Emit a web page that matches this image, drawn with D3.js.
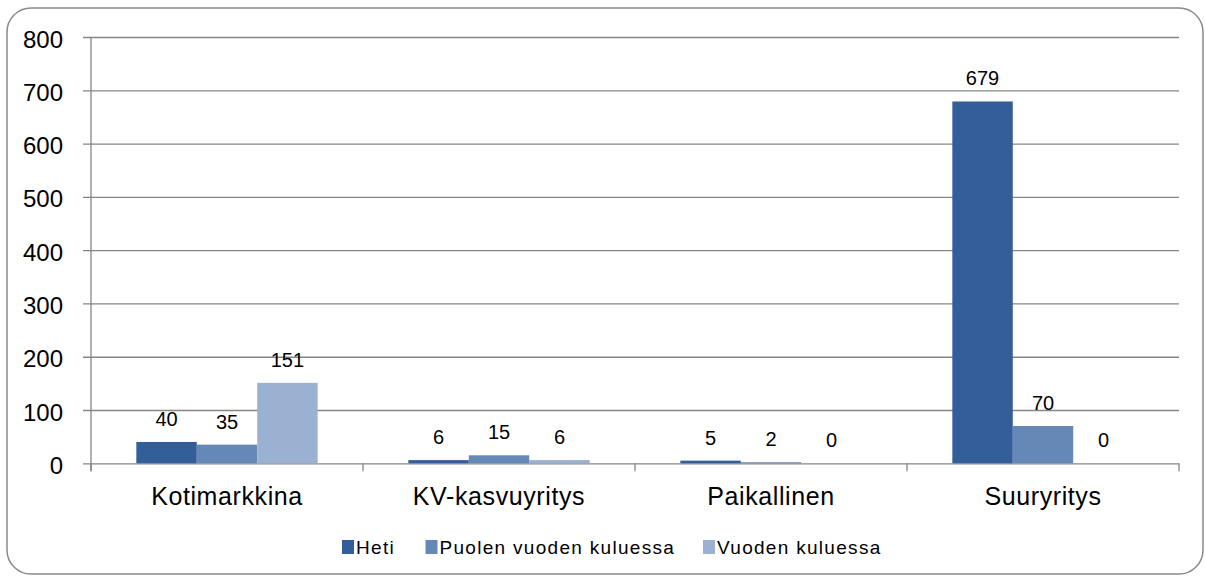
<!DOCTYPE html>
<html>
<head>
<meta charset="utf-8">
<script src="https://cdn.jsdelivr.net/npm/d3@7/dist/d3.min.js"></script>
<style>
  body { margin: 0; background: #fff; }
  svg text { font-family: "Liberation Sans", Arial, sans-serif; fill: #000; }
</style>
</head>
<body>
<svg id="chart" width="1205" height="577"></svg>
<script>
var categories = ["Kotimarkkina", "KV-kasvuyritys", "Paikallinen", "Suuryritys"];
var series = ["Heti", "Puolen vuoden kuluessa", "Vuoden kuluessa"];
var heti = [40, 6, 5, 679];
var puolen = [35, 15, 2, 70];
var vuoden = [151, 6, 0, 0];
var yTicks = [0, 100, 200, 300, 400, 500, 600, 700, 800];
var colors = ["#335e99", "#6688b7", "#9bb1d1"];

var values = [heti, puolen, vuoden];

var svg = d3.select("#chart");

// outer frame with rounded corners
svg.append("rect")
    .attr("x", 7).attr("y", 8)
    .attr("width", 1196).attr("height", 566)
    .attr("rx", 24).attr("ry", 24)
    .style("fill", "#fff")
    .style("stroke", "#8a8a8a")
    .style("stroke-width", 1.5);

var plot = { left: 91, right: 1179, top: 37, bottom: 463.3 };

var y = d3.scaleLinear().domain([0, 800]).range([plot.bottom, plot.top]);
var x0 = d3.scaleBand().domain(categories).range([plot.left, plot.right]);
var x1 = d3.scaleBand().domain(series).range([0, x0.bandwidth()])
    .paddingInner(0).paddingOuter(0.75);

// horizontal gridlines + y ticks
var yAxis = d3.axisLeft(y).tickValues(yTicks)
    .tickSize(-(plot.right - plot.left) - 0).tickPadding(20);
var gy = svg.append("g")
    .attr("transform", "translate(" + plot.left + ",0)")
    .call(yAxis);
gy.select(".domain").remove();
gy.selectAll(".tick line")
    .attr("x1", -8)
    .style("stroke", "#868686").style("stroke-width", 1.3);
gy.selectAll(".tick text")
    .attr("x", -28).attr("dy", null).attr("y", 10)
    .style("font-size", "24px");

// vertical axis line
svg.append("line")
    .attr("x1", plot.left).attr("x2", plot.left)
    .attr("y1", plot.top).attr("y2", plot.bottom + 8)
    .style("stroke", "#868686").style("stroke-width", 1.3);

// category ticks below the baseline
var bounds = categories.map(function (c) { return x0(c); }).concat([plot.right]);
svg.selectAll("line.cat-tick")
    .data(bounds).enter()
    .append("line")
    .attr("class", "cat-tick")
    .attr("x1", function (d) { return d; })
    .attr("x2", function (d) { return d; })
    .attr("y1", plot.bottom).attr("y2", plot.bottom + 8)
    .style("stroke", "#868686").style("stroke-width", 1.3);

// bars
var groups = svg.selectAll("g.cat")
    .data(categories).enter()
    .append("g")
    .attr("class", "cat")
    .attr("transform", function (d) { return "translate(" + x0(d) + ",0)"; });

groups.each(function (cat, ci) {
    var g = d3.select(this);
    series.forEach(function (s, si) {
        var v = values[si][ci];
        g.append("rect")
            .attr("x", x1(s))
            .attr("y", y(v))
            .attr("width", x1.bandwidth())
            .attr("height", plot.bottom - y(v))
            .style("fill", colors[si]);
        g.append("text")
            .attr("x", x1(s) + x1.bandwidth() / 2)
            .attr("y", y(v) - 16)
            .attr("text-anchor", "middle")
            .style("font-size", "20px")
            .text(v);
    });
});

// category labels
svg.selectAll("text.cat-label")
    .data(categories).enter()
    .append("text")
    .attr("class", "cat-label")
    .attr("x", function (d) { return x0(d) + x0.bandwidth() / 2; })
    .attr("y", 505)
    .attr("text-anchor", "middle")
    .style("font-size", "25px")
    .style("letter-spacing", "0.6px")
    .text(function (d) { return d; });

// legend
var legendX = [342, 425.5, 703];
var legend = svg.selectAll("g.legend")
    .data(series).enter()
    .append("g")
    .attr("class", "legend")
    .attr("transform", function (d, i) { return "translate(" + legendX[i] + ",540)"; });
legend.append("rect")
    .attr("width", 12).attr("height", 14)
    .style("fill", function (d, i) { return colors[i]; });
legend.append("text")
    .attr("x", 14).attr("y", 14)
    .style("font-size", "19px")
    .style("letter-spacing", "1.3px")
    .text(function (d) { return d; });
</script>
</body>
</html>
